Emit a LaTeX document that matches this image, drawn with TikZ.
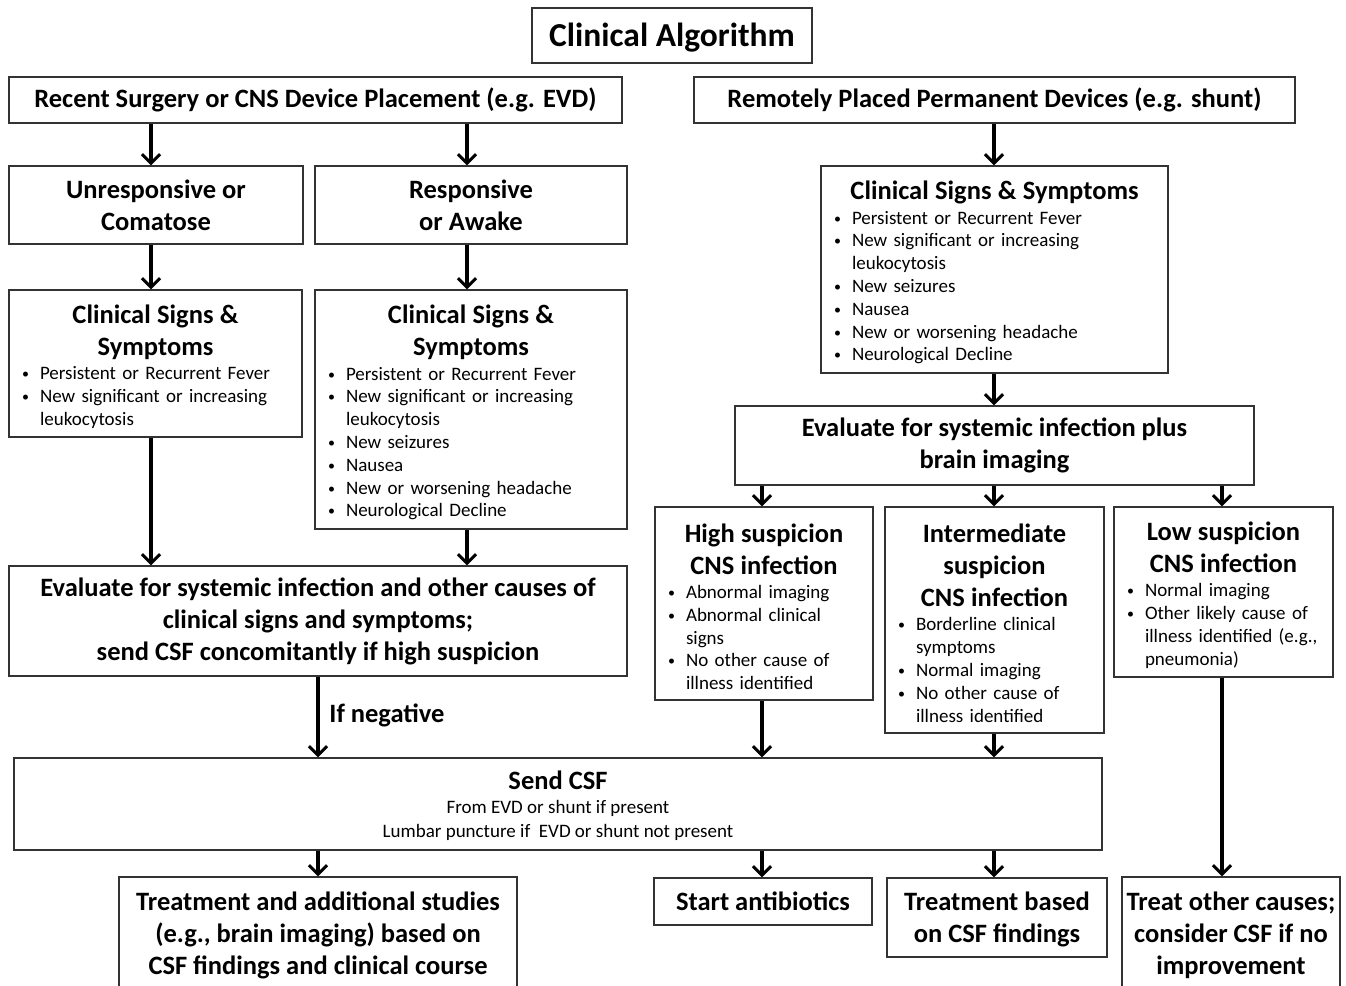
\documentclass[tikz,border=0pt]{standalone}
\usepackage{fontspec}
\setmainfont{Carlito}
\usetikzlibrary{arrows.meta}
\newcommand\nl{\unskip\nobreak\hfil\break}
\newcommand\bl[1]{\par\noindent\hangindent=23pt\hangafter=1\makebox[23pt][l]{\hspace{5pt}\raisebox{1pt}{\fontsize{14}{14}\selectfont\textbullet}}#1\par}
\newcommand\bxttl[1]{{\centering\bfseries\fontsize{26.5}{32}\selectfont\rule{0pt}{25pt}#1\par}\vspace{1.5pt}\fontsize{19}{22.8}\selectfont}
\tikzset{
  box/.style={draw=black!80, line width=1.4pt, inner sep=0pt, align=center, font=\bfseries\fontsize{26.5}{32}\selectfont},
  blbox/.style={draw=black!80, line width=1.4pt, inner sep=0pt, align=left, font=\fontsize{19}{22.8}\selectfont},
  arr/.style={line width=3.2pt, -{Straight Barb[length=9pt,width=18pt,line width=3pt]}},
}
\begin{document}
\begin{tikzpicture}[x=1pt,y=-1pt]
\useasboundingbox (0,0) rectangle (1346,985);
\fill[white] (0,0) rectangle (1346,985);
\clip (0,0) rectangle (1346,985);

\coordinate (xA) at (151,0);
\coordinate (xB) at (467,0);
\coordinate (xC) at (994,0);
\coordinate (xD) at (318,0);
\coordinate (xE) at (762,0);
\coordinate (xF) at (1222,0);

\node[box, font=\bfseries\fontsize{33.5}{40}\selectfont, minimum width=280, minimum height=55, text height=27pt, text depth=5pt] (title) at (672,35.5) {Clinical Algorithm};

\node[box, font=\bfseries\fontsize{26.5}{32}\selectfont, minimum width=613, minimum height=46] (hdrL) at (315.5,100) {Recent Surgery or CNS Device Placement (e.g. EVD)};
\node[box, font=\bfseries\fontsize{26.5}{32}\selectfont, minimum width=601, minimum height=46] (hdrR) at (994.5,100) {Remotely Placed Permanent Devices (e.g. shunt)};

\node[box, minimum width=294, minimum height=78] (unresp) at (156,205) {Unresponsive or\\Comatose};
\node[box, minimum width=312, minimum height=78] (resp) at (471,205) {Responsive\\or Awake};

\node[blbox, minimum width=293, minimum height=147, text width=277] (csL) at (155.5,363.5) {%
\bxttl{Clinical Signs \&\\Symptoms}%
\bl{Persistent or Recurrent Fever}
\bl{New significant or increasing\nl leukocytosis}};

\node[blbox, minimum width=312, minimum height=239, text width=296] (csM) at (471,409.5) {%
\bxttl{Clinical Signs \&\\Symptoms}%
\bl{Persistent or Recurrent Fever}
\bl{New significant or increasing\nl leukocytosis}
\bl{New seizures}
\bl{Nausea}
\bl{New or worsening headache}
\bl{Neurological Decline}};

\node[blbox, minimum width=347, minimum height=207, text width=331] (csR) at (994.5,269.5) {%
\bxttl{Clinical Signs \& Symptoms}%
\bl{Persistent or Recurrent Fever}
\bl{New significant or increasing\nl leukocytosis}
\bl{New seizures}
\bl{Nausea}
\bl{New or worsening headache}
\bl{Neurological Decline}};

\node[box, minimum width=519, minimum height=79] (evalR) at (994.5,445.5) {Evaluate for systemic infection plus\\brain imaging};

\node[box, minimum width=618, minimum height=110] (evalL) at (318,621) {Evaluate for systemic infection and other causes of\\clinical signs and symptoms;\\send CSF concomitantly if high suspicion};

\node[blbox, minimum width=218, minimum height=193, text width=202] (high) at (764,603.5) {%
\bxttl{High suspicion\\CNS infection}%
\bl{Abnormal imaging}
\bl{Abnormal clinical\nl signs}
\bl{No other cause of\nl illness identified}};

\node[blbox, minimum width=219, minimum height=226, text width=203] (inter) at (994.5,620) {%
\bxttl{Intermediate\\suspicion\\CNS infection}%
\bl{Borderline clinical\nl symptoms}
\bl{Normal imaging}
\bl{No other cause of\nl illness identified}};

\node[blbox, minimum width=219, minimum height=170, text width=203] (low) at (1223.5,592) {%
\bxttl{Low suspicion\\CNS infection}%
\bl{Normal imaging}
\bl{Other likely cause of\nl illness identified (e.g.,\nl pneumonia)}};

\node[box, minimum width=1088, minimum height=92] (send) at (558,804) {\rule{0pt}{22pt}Send CSF\\[-8pt]{\mdseries\fontsize{19}{22.8}\selectfont From EVD or shunt if present}\\[-8.5pt]{\mdseries\fontsize{19}{22.8}\selectfont Lumbar puncture if~~EVD or shunt not present}};

\node[box, minimum width=398, minimum height=116] (treatA) at (318,935) {Treatment and additional studies\\(e.g., brain imaging) based on\\CSF findings and clinical course};
\node[box, minimum width=218, minimum height=47] (start) at (763,901.5) {Start antibiotics};
\node[box, minimum width=220, minimum height=79] (treatB) at (997,917.5) {\rule{0pt}{22pt}Treatment based\\on CSF findings};
\node[box, minimum width=218, minimum height=116] (treatO) at (1231,935) {Treat other causes;\\consider CSF if no\\improvement};

\node[font=\bfseries\fontsize{26.5}{32}\selectfont, inner sep=0pt] (neg) at (387,715) {If negative};

\draw[arr] (hdrL.south -| xA) -- (unresp.north -| xA);
\draw[arr] (hdrL.south -| xB) -- (resp.north -| xB);
\draw[arr] (hdrR.south -| xC) -- (csR.north -| xC);
\draw[arr] (unresp.south -| xA) -- (csL.north -| xA);
\draw[arr] (resp.south -| xB) -- (csM.north -| xB);
\draw[arr] (csL.south -| xA) -- (evalL.north -| xA);
\draw[arr] (csM.south -| xB) -- (evalL.north -| xB);
\draw[arr] (csR.south -| xC) -- (evalR.north -| xC);
\draw[arr] (evalR.south -| xE) -- (high.north -| xE);
\draw[arr] (evalR.south -| xC) -- (inter.north -| xC);
\draw[arr] (evalR.south -| xF) -- (low.north -| xF);
\draw[arr] (evalL.south -| xD) -- (send.north -| xD);
\draw[arr] (high.south -| xE) -- (send.north -| xE);
\draw[arr] (inter.south -| xC) -- (send.north -| xC);
\draw[arr] (send.south -| xD) -- (treatA.north -| xD);
\draw[arr] (send.south -| xE) -- (start.north -| xE);
\draw[arr] (send.south -| xC) -- (treatB.north -| xC);
\draw[arr] (low.south -| xF) -- (treatO.north -| xF);
\end{tikzpicture}
\end{document}
